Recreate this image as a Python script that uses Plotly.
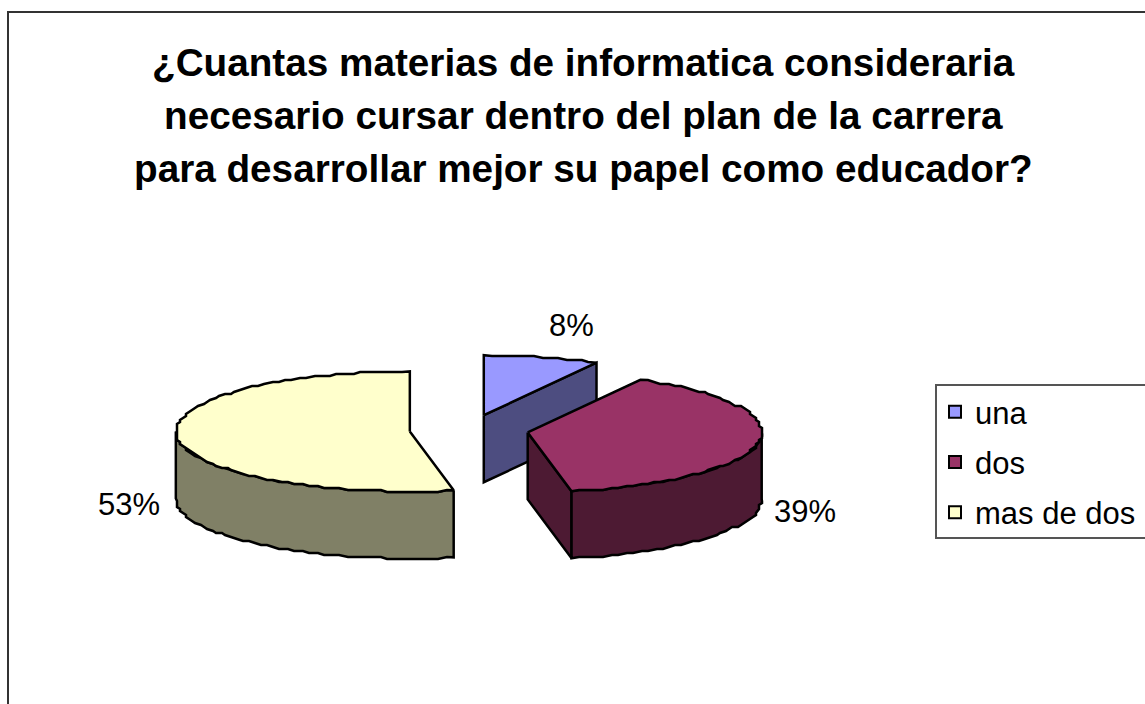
import numpy as np
import plotly.graph_objects as go

# Survey results
categories = ["una", "dos", "mas de dos"]
values = [8, 39, 53]
title_lines = [
    "¿Cuantas materias de informatica consideraria",
    "necesario cursar dentro del plan de la carrera",
    "para desarrollar mejor su papel como educador?",
]

top_colors = ["#9999FF", "#993366", "#FFFFCC"]
side_colors = ["#4D4D80", "#4D1A33", "#808066"]

# Projection of the tilted pie, in canvas pixels
CX, CY = 469.0, 430.0
RX, RY = 234.0, 60.0
DEPTH = 67.0
EXPLODE = 0.254
LABEL_FONT = 31
OUTLINE = 2.5


def rim(center, t0, t1):
    """Points along the ellipse between two clockwise angles, snapped to a fine grid."""
    n = max(2, int(abs(t1 - t0) / 2) + 1)
    t = np.radians(np.linspace(t0, t1, n))
    x = center[0] + RX * np.sin(t)
    y = center[1] - RY * np.cos(t)
    # interior points follow the slightly stepped outline of the drawn ellipse
    x[1:-1] = np.round(x[1:-1] / 3) * 3
    y[1:-1] = np.round(y[1:-1] / 2) * 2
    return x, y


fig = go.Figure()
bounds = np.concatenate([[0], np.cumsum(values)]) * 3.6


def polygon(xs, ys, color):
    fig.add_trace(go.Scatter(
        x=list(xs) + [xs[0]], y=list(ys) + [ys[0]], mode="lines", fill="toself",
        fillcolor=color, line=dict(color="black", width=OUTLINE, simplify=False),
        hoverinfo="skip", showlegend=False,
    ))


for i, _ in enumerate(values):
    t0, t1 = bounds[i], bounds[i + 1]
    mid = np.radians((t0 + t1) / 2)
    c = (CX + EXPLODE * RX * np.sin(mid), CY - EXPLODE * RY * np.cos(mid))

    # cut face on the trailing edge, when it turns toward the viewer
    if t1 < 180:
        ex = c[0] + RX * np.sin(np.radians(t1))
        ey = c[1] - RY * np.cos(np.radians(t1))
        polygon([c[0], ex, ex, c[0]], [c[1], ey, ey + DEPTH, c[1] + DEPTH], side_colors[i])

    # front wall of the rim
    a, b = max(t0, 90), min(t1, 270)
    if a < b:
        rx_, ry_ = rim(c, a, b)
        polygon(np.r_[rx_, rx_[::-1]], np.r_[ry_, ry_[::-1] + DEPTH], side_colors[i])

    # top face
    rx_, ry_ = rim(c, t0, t1)
    polygon(np.r_[c[0], rx_], np.r_[c[1], ry_], top_colors[i])

# Legend entries
for i, name in enumerate(categories):
    fig.add_trace(go.Scatter(
        x=[None], y=[None], mode="markers", name=name, legendgroup=name,
        marker=dict(symbol="square", size=17, color=top_colors[i],
                    line=dict(color="black", width=2.5)),
    ))

annotations = []
for line, y in zip(title_lines, [62, 115, 168]):
    annotations.append(dict(
        x=583, y=y, xref="x", yref="y", text=f"<b>{line}</b>", showarrow=False,
        font=dict(family="Liberation Sans", size=38.7, color="black"),
        xanchor="center", yanchor="middle",
    ))

label_pos = [(571, 325), (805, 511), (129, 504)]
for v, (x, y) in zip(values, label_pos):
    annotations.append(dict(
        x=x, y=y, xref="x", yref="y", text=f"{v}%", showarrow=False,
        font=dict(family="Liberation Sans", size=LABEL_FONT, color="black"),
        xanchor="center", yanchor="middle",
    ))

fig.update_layout(
    width=1145, height=704, margin=dict(l=0, r=0, t=0, b=0, autoexpand=False),
    paper_bgcolor="white", plot_bgcolor="white",
    xaxis=dict(range=[0, 1145], visible=False, fixedrange=True),
    yaxis=dict(range=[704, 0], visible=False, fixedrange=True),
    annotations=annotations,
    shapes=[
        # chart frame and legend box, both running past the canvas edge
        dict(type="rect", xref="x", yref="y", x0=8, y0=12, x1=1200, y1=760,
             line=dict(color="#333333", width=2), fillcolor="rgba(0,0,0,0)", layer="below"),
        dict(type="rect", xref="x", yref="y", x0=936, y0=385, x1=1200, y1=538,
             line=dict(color="#555555", width=2), fillcolor="white", layer="below"),
    ],
    legend=dict(
        x=935 / 1145, y=1 - 385 / 704, xanchor="left", yanchor="top",
        borderwidth=0, bgcolor="rgba(0,0,0,0)",
        font=dict(family="Liberation Sans", size=LABEL_FONT, color="black"),
        tracegroupgap=7, itemsizing="constant",
    ),
)

fig.write_html("out.html")
